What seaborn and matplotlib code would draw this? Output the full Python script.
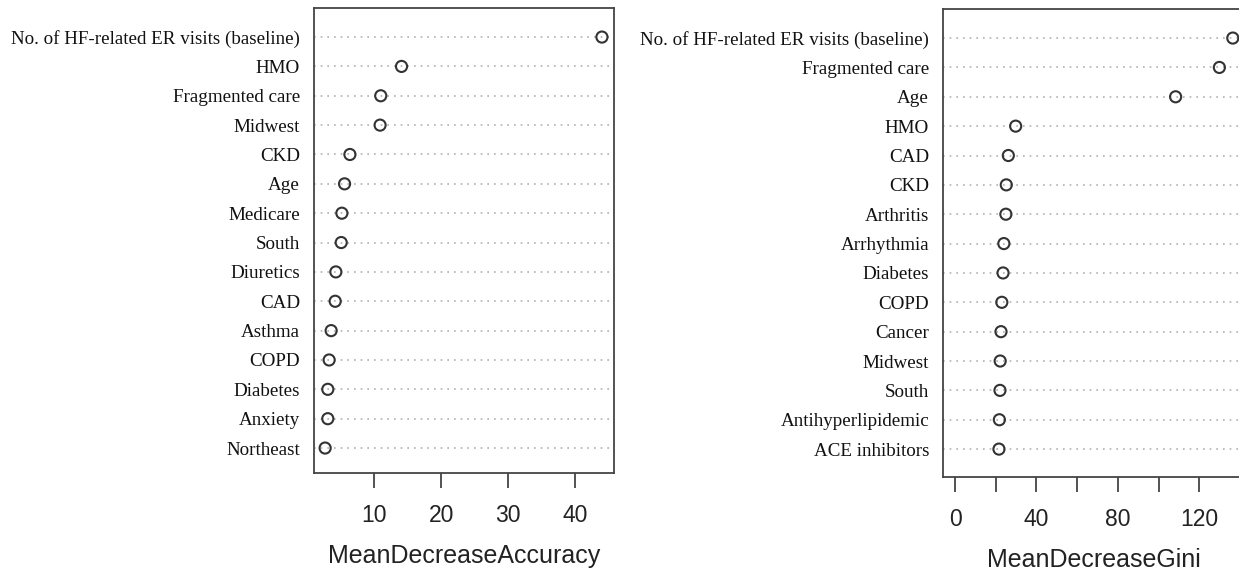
import matplotlib
matplotlib.use("Agg")
import matplotlib.pyplot as plt
import seaborn as sns
import pandas as pd

# ---- data ----
acc_labels = ["No. of HF-related ER visits (baseline)", "HMO", "Fragmented care", "Midwest",
              "CKD", "Age", "Medicare", "South", "Diuretics", "CAD", "Asthma", "COPD",
              "Diabetes", "Anxiety", "Northeast"]
acc_values = [44.0, 14.1, 11.0, 10.9, 6.4, 5.6, 5.2, 5.1, 4.3, 4.2, 3.6, 3.3, 3.1, 3.1, 2.7]

gini_labels = ["No. of HF-related ER visits (baseline)", "Fragmented care", "Age", "HMO",
               "CAD", "CKD", "Arthritis", "Arrhythmia", "Diabetes", "COPD", "Cancer",
               "Midwest", "South", "Antihyperlipidemic", "ACE inhibitors"]
gini_values = [136.5, 129.9, 108.4, 29.8, 26.2, 25.2, 25.0, 24.0, 23.6, 23.0, 22.6,
               22.2, 22.1, 21.8, 21.6]

acc_ticks = [10, 20, 30, 40]
gini_ticks = [0, 20, 40, 60, 80, 100, 120, 140]
gini_ticklabels = ["0", "", "40", "", "80", "", "120", ""]

sns.set_theme(style="white")
plt.rcParams["font.family"] = ["Liberation Sans", "DejaVu Sans"]

W, H = 1239, 570
fig = plt.figure(figsize=(W / 100, H / 100), dpi=100)

def px_axes(x0, x1, y0, y1):
    return fig.add_axes([x0 / W, (H - y1) / H, (x1 - x0) / W, (y1 - y0) / H])

ax1 = px_axes(314, 614, 8, 473)
ax2 = px_axes(943, 1244, 9, 477)

def draw(ax, labels, values, xlabel, xlim, ylim, ticks, ticklabels):
    df = pd.DataFrame({"label": labels, "value": values})
    sns.scatterplot(data=df, x="value", y="label", ax=ax, marker="o", s=64,
                    facecolor="none", edgecolor="#333333", linewidth=1.5, zorder=3)
    ax.set_xlim(*xlim)
    ax.set_ylim(*ylim)
    ax.yaxis.grid(True, linestyle=(0, (1, 3)), color="#b0b0b0", linewidth=1.2)
    ax.xaxis.grid(False)
    ax.set_ylabel("")
    ax.set_xlabel(xlabel, fontsize=18, color="#222222", labelpad=12)
    ax.set_xticks(ticks)
    ax.set_xticklabels(ticklabels)
    ax.tick_params(axis="x", direction="out", length=11, width=1.3, color="#444444",
                   pad=11.5, labelsize=16.5, labelcolor="#222222", bottom=True)
    ax.tick_params(axis="y", length=0, pad=10)
    for t in ax.get_yticklabels():
        t.set_fontfamily(["Liberation Serif", "DejaVu Serif"])
        t.set_fontsize(13.7)
        t.set_color("#111111")
    for sp in ax.spines.values():
        sp.set_color("#444444")
        sp.set_linewidth(1.3)
        sp.set_visible(True)

draw(ax1, acc_labels, acc_values, "MeanDecreaseAccuracy", (1.04, 45.8), (14.85, -0.99),
     acc_ticks, [str(t) for t in acc_ticks])
draw(ax2, gini_labels, gini_values, "MeanDecreaseGini", (-5.9, 142.0), (14.95, -0.99),
     gini_ticks, gini_ticklabels)

fig.savefig("out.png", dpi=100, facecolor="white")
